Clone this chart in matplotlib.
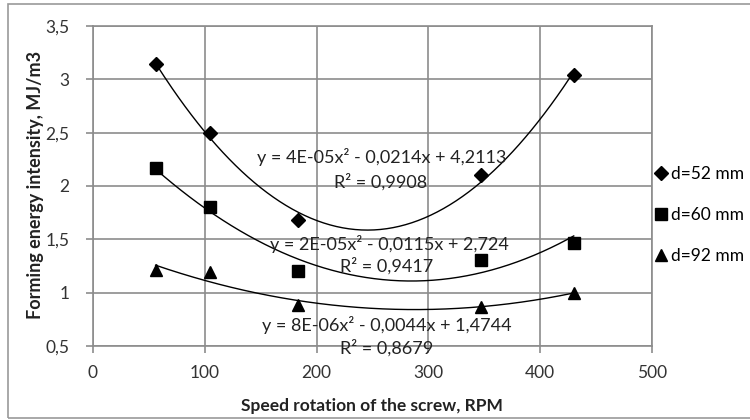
import numpy as np
import matplotlib
matplotlib.use("Agg")
import matplotlib.pyplot as plt
from matplotlib.patches import Rectangle
from matplotlib.ticker import FuncFormatter

plt.rcParams['font.family'] = ['Lato', 'DejaVu Sans']

speed = [56, 105, 183, 347, 430]
d52 = [3.14, 2.50, 1.68, 2.10, 3.04]
d60 = [2.17, 1.80, 1.20, 1.31, 1.47]
d92 = [1.21, 1.19, 0.88, 0.87, 1.00]
labels = ['d=52 mm', 'd=60 mm', 'd=92 mm']
markers = ['D', 's', '^']
msizes = [7.5, 9, 9]
eqs = ['y = 4E-05x² - 0,0214x + 4,2113', 'y = 2E-05x² - 0,0115x + 2,724', 'y = 8E-06x² - 0,0044x + 1,4744']
r2s = ['R² = 0,9908', 'R² = 0,9417', 'R² = 0,8679']
eq_pos = [(147, 2.27), (158, 1.46), (151, 0.70)]
r2_pos = [(216, 2.04), (221, 1.25), (221, 0.482)]

fig = plt.figure(figsize=(7.5, 4.2), dpi=100)
fig.patches.append(Rectangle((8/750, 1-418/420), 1.5, 414/420, transform=fig.transFigure,
                             fill=False, edgecolor='#999999', linewidth=1.2))
ax = fig.add_axes([93/750, 1-346/420, 559/750, 320/420])

series = [d52, d60, d92]
xs = np.array(speed, dtype=float)
for i, ys in enumerate(series):
    coef = np.polyfit(xs, ys, 2)
    xx = np.linspace(xs.min(), xs.max(), 200)
    ax.plot(xx, np.polyval(coef, xx), color='black', linewidth=1.0, zorder=3)
    ax.plot(xs, ys, linestyle='none', marker=markers[i], markersize=msizes[i],
            color='black', zorder=4, label=labels[i])
    ax.text(*eq_pos[i], eqs[i], ha='left', va='center', fontsize=13, zorder=5, color='#222222')
    ax.text(*r2_pos[i], r2s[i], ha='left', va='center', fontsize=13, zorder=5, color='#222222',
            clip_on=False)

ax.set_xlim(0, 500)
ax.set_ylim(0.5, 3.5)
ax.set_xticks(np.arange(0, 501, 100))
ax.set_yticks(np.arange(0.5, 3.51, 0.5))
ax.yaxis.set_major_formatter(FuncFormatter(lambda v, p: ('%g' % v).replace('.', ',')))
ax.grid(True, color='#8c8c8c', linewidth=1.2)
ax.set_axisbelow(True)
for s in ax.spines.values():
    s.set_color('#8c8c8c')
    s.set_linewidth(1.2)
ax.tick_params(axis='both', colors='#8c8c8c', labelcolor='#333333', labelsize=12.5, length=5, width=1.2)
ax.tick_params(axis='y', pad=12)
ax.tick_params(axis='x', pad=9)

fig.text(372/750, 1-406/420, 'Speed rotation of the screw, RPM', ha='center', va='center',
         fontsize=12.5, fontweight='bold', color='#222222')
fig.text(36/750, 1-185/420, 'Forming energy intensity, MJ/m3', ha='center', va='center',
         rotation=90, fontsize=13, fontweight='bold', color='#222222')

leg = fig.legend(loc='upper left', bbox_to_anchor=(652/750, 1-166/420), frameon=False,
                 fontsize=12.5, handletextpad=0.1, handlelength=1.0, labelspacing=1.45,
                 borderaxespad=0, borderpad=0)

fig.savefig('out.png', dpi=100)
